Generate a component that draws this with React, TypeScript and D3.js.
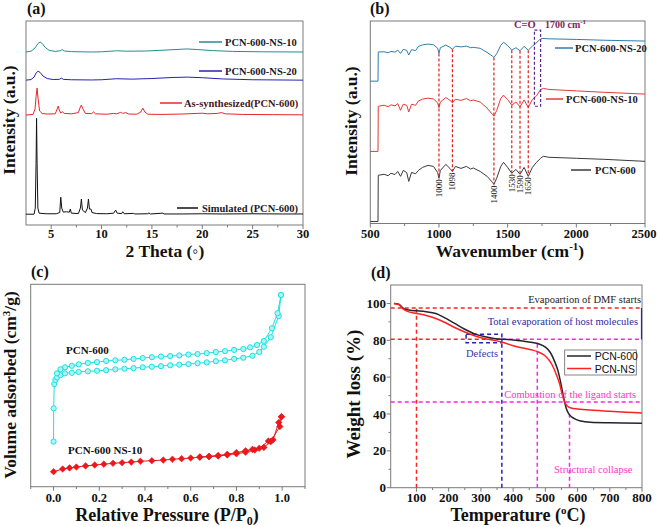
import React from 'react';
import * as d3 from 'd3';

type P = [number, number];

// ---------- (a) XRD ----------
const xrdTicks = [5, 10, 15, 20, 25, 30];
const xrdMinor = [7.5, 12.5, 17.5, 22.5, 27.5];
const xrdNames = ['Simulated (PCN-600)', 'As-synthesized(PCN-600)', 'PCN-600-NS-20', 'PCN-600-NS-10'];
const xrdOffsets = [5.3, 53.9, 71, 84.8];
const xrdSimulated: P[] = [[2.5,0],[3.3,0],[3.42,3],[3.5,25],[3.55,47],[3.6,25],[3.68,3],[3.8,0.5],[4.5,0.2],[5.5,0.2],[5.85,0.8],[5.95,8.3],[6.05,3],[6.2,1],[6.5,1.2],[6.8,1],[6.9,2.5],[7.0,0.5],[7.7,0.3],[7.9,3],[8.0,7.4],[8.1,2],[8.4,0.8],[8.6,3],[8.7,7.4],[8.8,2.5],[8.95,2.5],[9.05,0.8],[9.5,0.3],[10.5,0.2],[11.2,0.5],[11.4,2],[11.55,0.5],[12.0,0.3],[12.1,1.2],[12.25,0.2],[13.2,0.4],[13.3,0.1],[14.6,0.2],[14.7,0.6],[14.85,0.1],[16.1,0.5],[16.2,0.1],[18,0.1],[20,0.2],[22,0.1],[25,0.2],[28,0.1],[30,0.1]];
const xrdAsSynth: P[] = [[2.5,0],[3.2,0.3],[3.4,3],[3.5,9],[3.6,13.2],[3.7,8],[3.85,2],[4.1,0.8],[4.6,0.5],[5.4,0.6],[5.6,3],[5.7,4.4],[5.8,2.5],[5.95,1],[6.1,1.6],[6.3,0.8],[7.0,0.6],[7.7,1.2],[7.9,4],[8.0,4.9],[8.15,3],[8.4,0.8],[9.0,0.7],[9.2,1.5],[9.4,0.6],[10.5,0.4],[11.2,0.8],[11.5,0.6],[11.9,1.3],[12.1,0.8],[12.4,1.2],[12.7,0.5],[13.5,0.4],[13.9,1.5],[14.1,3.4],[14.3,1.5],[14.6,0.4],[16,0.3],[18,0.5],[19.5,0.8],[20,0.9],[20.5,0.6],[21.5,0.8],[21.9,1.2],[22.3,0.6],[24,0.3],[27,0.2],[30,0.1]];
const xrdNS20: P[] = [[2.5,0],[3.0,0.3],[3.3,1.5],[3.5,3.5],[3.7,4.4],[3.9,3.8],[4.2,2],[4.6,0.8],[5.2,0.3],[5.8,0.4],[6.0,1.0],[6.2,0.4],[7,0.2],[9,0.1],[10,0.2],[11.5,0.7],[13,0.5],[15,0.8],[17,1.3],[18.5,1.5],[20,1.2],[22,0.6],[25,0.2],[30,0]];
const xrdNS10: P[] = [[2.5,0],[3.0,0.4],[3.4,2],[3.7,4.2],[3.9,4.9],[4.1,4.2],[4.4,2.3],[4.8,0.8],[5.4,0.3],[5.9,0.6],[6.1,1.2],[6.3,0.5],[7,0.2],[9,0],[10,0.1],[11.5,0.6],[12.5,0.4],[14.5,0.5],[16.5,1],[18.5,1.5],[19.5,1.2],[21,0.7],[23,0.3],[26,0.1],[30,0]];

// ---------- (b) FTIR ----------
const ftirTicks = [500, 1000, 1500, 2000, 2500];
const ftirMinor = [750, 1250, 1750, 2250];
const ftirNames = ['PCN-600', 'PCN-600-NS-10', 'PCN-600-NS-20'];
const ftirPeaks = [1000, 1098, 1400, 1530, 1590, 1650];
const ftirBox = [1695, 1740, 57.9, 95.5];
const ftirPCN600: P[] = [[500,1],[556,1],[558,23.8],[600,24.3],[630,23.6],[650,24.8],[680,24.2],[700,25.7],[720,23.3],[740,26.2],[765,25.2],[780,20.8],[800,25.2],[830,24.6],[850,26.2],[880,27.7],[920,28.7],[960,28.2],[990,25.2],[1000,22.3],[1010,26.2],[1050,29.2],[1080,27.2],[1098,25.7],[1120,28.2],[1160,27.2],[1200,28.2],[1230,26.9],[1250,27.4],[1300,25.7],[1350,23.3],[1390,20.3],[1400,19.3],[1420,22.3],[1450,28.2],[1470,30.2],[1500,27.7],[1530,24.8],[1560,26.7],[1590,24.3],[1620,27.7],[1650,23.3],[1680,27.7],[1710,30.2],[1740,32.2],[1760,33.2],[1800,32.7],[2000,32.2],[2200,31.7],[2500,30.7]];
const ftirNS10: P[] = [[500,35.6],[556,35.6],[558,57.9],[600,58.4],[630,57.7],[650,58.6],[680,58.1],[700,59.2],[720,55.9],[740,58.9],[765,58.4],[780,55.1],[800,58.9],[830,58.4],[850,60.5],[880,61.4],[920,61.9],[960,61.5],[990,59.6],[1000,57.2],[1010,60.0],[1050,62.2],[1080,60.8],[1098,59.6],[1120,61.4],[1160,60.8],[1200,61.7],[1230,60.6],[1250,61.0],[1300,60.0],[1350,57.0],[1390,53.8],[1400,53.0],[1420,55.8],[1450,61.8],[1470,63.4],[1500,61.2],[1530,58.4],[1560,60.0],[1590,57.6],[1620,61.0],[1650,57.3],[1680,61.2],[1710,63.0],[1740,66.2],[1760,66.7],[1800,66.2],[2000,65.5],[2200,64.8],[2500,63.9]];
const ftirNS20: P[] = [[500,70.3],[556,70.3],[558,84.7],[600,84.8],[630,84.3],[650,85.0],[680,84.6],[700,85.6],[720,84.0],[740,86.0],[765,85.5],[780,83.2],[800,85.8],[830,85.4],[850,87.4],[880,88.2],[920,88.6],[960,88.3],[990,86.6],[1000,84.0],[1010,86.8],[1050,88.1],[1080,87.0],[1098,86.0],[1120,87.6],[1160,87.2],[1200,87.6],[1230,86.8],[1250,87.0],[1300,86.5],[1350,84.5],[1390,82.6],[1400,82.0],[1420,83.8],[1450,88.0],[1470,89.5],[1500,87.9],[1530,85.6],[1560,86.8],[1590,85.3],[1620,87.5],[1650,85.6],[1680,87.6],[1700,88.6],[1730,90.6],[1750,91.4],[1800,91.2],[2000,90.9],[2200,90.5],[2500,90.1]];

// ---------- (c) N2 isotherms ----------
const betTicks = [0, 0.2, 0.4, 0.6, 0.8, 1.0];
const betMinor = [-0.1, 0.1, 0.3, 0.5, 0.7, 0.9, 1.1];
const betNames = ['PCN-600', 'PCN-600 NS-10'];
const bet600Ads: P[] = [[0,156],[0.0005,271],[0.003,355],[0.008,369],[0.015,378],[0.03,386],[0.05,392],[0.08,394],[0.11,397],[0.15,399],[0.19,401],[0.23,403],[0.27,406],[0.31,408],[0.35,410],[0.39,413],[0.43,415],[0.47,417],[0.51,420],[0.55,422],[0.59,424],[0.63,427],[0.67,430],[0.71,434],[0.75,437],[0.79,442],[0.83,446],[0.87,453],[0.9,466],[0.92,484],[0.95,517],[0.985,590],[0.995,663]];
const bet600Des: P[] = [[0.995,663],[0.98,600],[0.955,548],[0.92,504],[0.89,490],[0.86,482],[0.83,476],[0.79,473],[0.75,469],[0.71,466],[0.67,462],[0.63,459],[0.59,457],[0.55,454],[0.51,452],[0.47,450],[0.43,448],[0.39,445],[0.35,442],[0.31,439],[0.27,437],[0.23,435],[0.19,431],[0.15,428],[0.11,423],[0.08,418],[0.05,413],[0.03,406],[0.015,392]];
const betNSAds: P[] = [[0,52],[0.04,61],[0.07,65],[0.1,68],[0.14,72],[0.18,75],[0.22,78],[0.26,81],[0.3,83],[0.34,85],[0.38,88],[0.43,90],[0.48,92],[0.52,95],[0.56,97],[0.6,99],[0.64,102],[0.68,104],[0.72,106],[0.76,110],[0.8,114],[0.84,119],[0.88,127],[0.92,136],[0.95,156],[0.99,208],[0.997,242]];
const betNSDes: P[] = [[0.997,242],[0.985,222],[0.96,162],[0.94,158],[0.9,133],[0.87,129],[0.84,124],[0.8,118],[0.76,112],[0.72,108],[0.68,105],[0.64,103]];

// ---------- (d) TGA ----------
const tgaXTicks = [100, 200, 300, 400, 500, 600, 700, 800];
const tgaXMinor = [150, 250, 350, 450, 550, 650, 750];
const tgaYTicks = [0, 20, 40, 60, 80, 100];
const tgaYMinor = [10, 30, 50, 70, 90];
const tgaNames = ['PCN-600', 'PCN-NS'];
const tgaPCN600: P[] = [[30,100],[45,99.6],[55,98],[65,96.8],[80,96.3],[100,96],[130,95.5],[160,94.5],[190,92],[220,89],[250,86],[280,83.5],[310,82],[340,81],[370,80.5],[400,80.2],[430,79.6],[460,78.8],[480,78],[500,76.3],[515,73.5],[530,68],[540,63],[550,55],[558,48],[565,43],[575,39.5],[590,37.5],[610,36.2],[640,35.5],[700,35.2],[800,35]];
const tgaPCNNS: P[] = [[30,100],[45,99.4],[55,97.5],[70,95.8],[100,94.5],[130,93.5],[160,91.8],[190,89.5],[220,86.8],[250,84.5],[280,82.5],[310,81],[340,80],[370,78.8],[400,77],[430,75.8],[460,74.7],[480,73.5],[500,71.5],[520,67],[535,61],[545,56],[553,50],[560,46.5],[568,44.3],[580,43.2],[600,42.7],[650,42],[700,41.5],[750,41],[800,40.5]];
const tgaLevels = [97.5, 80.5, 46.5];
const tgaTemps = [100, 365, 475, 575];
const tgaDefectBox = [254, 365, 78.7, 83.3];
const tgaNotes = ['Evapoartion of DMF starts', 'Total evaporation of host molecules', 'Defects', 'Combustion of the ligand starts', 'Structural collapse'];

const SERIF = "'Liberation Serif','Times New Roman',Times,serif";
const SANS = "'Liberation Sans',Arial,Helvetica,sans-serif";
const FRAME = '#7a7a7a';

function interp(data: P[], x: number): number {
  for (let i = 0; i < data.length - 1; i++) {
    const [x0, y0] = data[i];
    const [x1, y1] = data[i + 1];
    if (x >= x0 && x <= x1) return x1 === x0 ? y1 : y0 + ((x - x0) / (x1 - x0)) * (y1 - y0);
  }
  return data[data.length - 1][1];
}

function diamond(cx: number, cy: number, r: number) {
  return `M${cx},${cy - r}L${cx + r},${cy}L${cx},${cy + r}L${cx - r},${cy}Z`;
}

export default function App() {
  // ---- panel a ----
  const xa = d3.scaleLinear().domain([2.5, 30]).range([26, 303]);
  const ya = d3.scaleLinear().domain([0, 100]).range([225, 21]);
  const lineA = (data: P[], off: number) =>
    d3.line<P>().x(d => xa(d[0])).y(d => ya(d[1] + off))(data) || '';
  const xrdSeries = [xrdSimulated, xrdAsSynth, xrdNS20, xrdNS10];
  const xrdColors = ['#111111', '#e8262b', '#2323b3', '#20908f'];
  const xrdLegend = [
    { x1: 177, x2: 198, y: 208, tx: 202 },
    { x1: 160, x2: 182, y: 103, tx: 184 },
    { x1: 199, x2: 222, y: 71, tx: 225 },
    { x1: 199, x2: 222, y: 42, tx: 225 },
  ];

  // ---- panel b ----
  const xb = d3.scaleLinear().domain([500, 2500]).range([370.3, 645]);
  const yb = d3.scaleLinear().domain([0, 100]).range([223.5, 21]);
  const lineB = d3.line<P>().x(d => xb(d[0])).y(d => yb(d[1]));
  const ftirSeries = [ftirPCN600, ftirNS10, ftirNS20];
  const ftirColors = ['#3a3a3a', '#e53935', '#2f7dad'];
  const ftirLegend = [
    { x1: 571, x2: 591, y: 170, tx: 595 },
    { x1: 546, x2: 563, y: 99, tx: 566 },
    { x1: 555, x2: 573, y: 48, tx: 575 },
  ];

  // ---- panel c ----
  const xc = d3.scaleLinear().domain([-0.1, 1.1]).range([30.7, 305]);
  const yc = d3.scaleLinear().domain([0, 700]).range([486.7, 284.3]);
  const lineC = d3.line<P>().x(d => xc(d[0])).y(d => yc(d[1]));
  const cyan = '#1fe0e0';
  const red = '#e8191c';

  // ---- panel d ----
  const xd = d3.scaleLinear().domain([20, 800]).range([390.7, 642]);
  const yd = d3.scaleLinear().domain([0, 110]).range([487.7, 285]);
  const lineD = d3.line<P>().x(d => xd(d[0])).y(d => yd(d[1])).curve(d3.curveMonotoneX);
  const dRed = '#ff2222';
  const dBlue = '#2323c0';
  const dMag = '#ff22ee';
  const dash = '4,3';

  const frame = (x0: number, x1: number, y0: number, y1: number) => (
    <rect x={x0} y={y0} width={x1 - x0} height={y1 - y0} fill="none" stroke={FRAME} strokeWidth={1} />
  );

  return (
    <svg width={658} height={527} style={{ position: 'absolute', left: 0, top: 0, display: 'block', background: '#fff' }}>
      <rect x={0} y={0} width={658} height={527} fill="#fff" />

      {/* ================= (a) ================= */}
      <g>
        {frame(26, 303, 21, 225)}
        {xrdTicks.map(t => (
          <g key={'at' + t}>
            <line x1={xa(t)} x2={xa(t)} y1={225} y2={229} stroke={FRAME} />
            <text x={xa(t)} y={238} textAnchor="middle" fontFamily={SERIF} fontWeight="bold" fontSize={12.5} fill="#111">{t}</text>
          </g>
        ))}
        {xrdMinor.map(t => (
          <line key={'am' + t} x1={xa(t)} x2={xa(t)} y1={225} y2={227.5} stroke={FRAME} />
        ))}
        {xrdSeries.map((s, i) => (
          <path key={'as' + i} d={lineA(s, xrdOffsets[i])} fill="none" stroke={xrdColors[i]} strokeWidth={1} />
        ))}
        {xrdLegend.map((l, i) => (
          <g key={'al' + i}>
            <line x1={l.x1} x2={l.x2} y1={l.y} y2={l.y} stroke={xrdColors[i]} strokeWidth={1.5} />
            <text x={l.tx} y={l.y + 4} fontFamily={SERIF} fontWeight="bold" fontSize={10.5} fill={i === 1 ? '#4a1520' : '#1a1a2a'}>{xrdNames[i]}</text>
          </g>
        ))}
        <text x={165} y={257} textAnchor="middle" fontFamily={SERIF} fontWeight="bold" fontSize={17.5} fill="#111">2 Theta (◦)</text>
        <text transform="translate(15,120) rotate(-90)" textAnchor="middle" fontFamily={SERIF} fontWeight="bold" fontSize={17.5} fill="#111">Intensity (a.u.)</text>
        <text x={27} y={14} fontFamily={SERIF} fontWeight="bold" fontSize={16} fill="#111">(a)</text>
      </g>

      {/* ================= (b) ================= */}
      <g>
        {frame(370.3, 645, 21, 223.5)}
        {ftirTicks.map(t => (
          <g key={'bt' + t}>
            <line x1={xb(t)} x2={xb(t)} y1={223.5} y2={227.5} stroke={FRAME} />
            <text x={t === 2500 ? xb(t) - 1 : xb(t)} y={238} textAnchor="middle" fontFamily={SERIF} fontWeight="bold" fontSize={12.5} fill="#111">{t}</text>
          </g>
        ))}
        {ftirMinor.map(t => (
          <line key={'bm' + t} x1={xb(t)} x2={xb(t)} y1={223.5} y2={226} stroke={FRAME} />
        ))}
        {ftirSeries.map((s, i) => (
          <path key={'bs' + i} d={lineB(s) || ''} fill="none" stroke={ftirColors[i]} strokeWidth={1} />
        ))}
        {ftirPeaks.map(p => {
          const top = yb(interp(ftirNS20, p));
          const bot = yb(interp(ftirPCN600, p));
          return (
            <g key={'bp' + p}>
              <line x1={xb(p)} x2={xb(p)} y1={top} y2={bot} stroke="#e02020" strokeWidth={1.2} strokeDasharray="3,2" />
              <text transform={`translate(${xb(p)},${bot + 1}) rotate(-90)`} dy="0.33em" textAnchor="end" fontFamily={SERIF} fontSize={9} fill="#111">{p}</text>
            </g>
          );
        })}
        <rect x={xb(ftirBox[0])} y={yb(ftirBox[3])} width={xb(ftirBox[1]) - xb(ftirBox[0])} height={yb(ftirBox[2]) - yb(ftirBox[3])} fill="none" stroke="#5b2a90" strokeWidth={1.2} strokeDasharray="3,2" />
        <text x={514} y={28} fontFamily={SERIF} fontWeight="bold" fontSize={10.5} fill="#7a2a5a">C=O</text>
        <text x={545} y={28} fontFamily={SERIF} fontWeight="bold" fontSize={10} fill="#7a2a5a">1700 cm<tspan dy={-4} fontSize={7}>-1</tspan></text>
        {ftirLegend.map((l, i) => (
          <g key={'bl' + i}>
            <line x1={l.x1} x2={l.x2} y1={l.y} y2={l.y} stroke={ftirColors[i]} strokeWidth={1.5} />
            <text x={l.tx} y={l.y + 4} fontFamily={SERIF} fontWeight="bold" fontSize={10.5} fill="#1a1a1a">{ftirNames[i]}</text>
          </g>
        ))}
        <text x={510} y={257} textAnchor="middle" fontFamily={SERIF} fontWeight="bold" fontSize={17.5} fill="#111">Wavenumber (cm<tspan dy={-7} fontSize={11}>-1</tspan><tspan dy={7}>)</tspan></text>
        <text transform="translate(357,121) rotate(-90)" textAnchor="middle" fontFamily={SERIF} fontWeight="bold" fontSize={17.5} fill="#111">Intensity (a.u.)</text>
        <text x={370} y={14} fontFamily={SERIF} fontWeight="bold" fontSize={16} fill="#111">(b)</text>
      </g>

      {/* ================= (c) ================= */}
      <g>
        {frame(30.7, 305, 284.3, 486.7)}
        {betTicks.map(t => (
          <g key={'ct' + t}>
            <line x1={xc(t)} x2={xc(t)} y1={486.7} y2={490.7} stroke={FRAME} />
            <text x={xc(t)} y={502} textAnchor="middle" fontFamily={SERIF} fontWeight="bold" fontSize={12.5} fill="#111">{t.toFixed(1)}</text>
          </g>
        ))}
        {betMinor.map(t => (
          <line key={'cm' + t} x1={xc(t)} x2={xc(t)} y1={486.7} y2={489} stroke={FRAME} />
        ))}
        <path d={lineC(bet600Ads) || ''} fill="none" stroke={cyan} strokeWidth={1} />
        <path d={lineC(bet600Des) || ''} fill="none" stroke={cyan} strokeWidth={1} />
        {[...bet600Ads, ...bet600Des].map((d, i) => (
          <circle key={'cc' + i} cx={xc(d[0])} cy={yc(d[1])} r={2.6} fill="#a8f6f6" stroke={cyan} strokeWidth={1} />
        ))}
        <path d={lineC(betNSAds) || ''} fill="none" stroke={red} strokeWidth={1} />
        <path d={lineC(betNSDes) || ''} fill="none" stroke={red} strokeWidth={1} />
        {[...betNSAds, ...betNSDes].map((d, i) => (
          <path key={'cd' + i} d={diamond(xc(d[0]), yc(d[1]), 3.3)} fill={red} stroke={red} strokeWidth={0.5} />
        ))}
        <text x={66} y={354} fontFamily={SERIF} fontWeight="bold" fontSize={11} fill="#111">{betNames[0]}</text>
        <text x={68} y={454} fontFamily={SERIF} fontWeight="bold" fontSize={11} fill="#111">{betNames[1]}</text>
        <text x={167} y={521} textAnchor="middle" fontFamily={SERIF} fontWeight="bold" fontSize={18} fill="#111">Relative Pressure (P/P<tspan dy={4} fontSize={12}>0</tspan><tspan dy={-4}>)</tspan></text>
        <text transform="translate(16,385) rotate(-90)" textAnchor="middle" fontFamily={SERIF} fontWeight="bold" fontSize={17.5} fill="#111">Volume adsorbed (cm<tspan dy={-6} fontSize={11}>3</tspan><tspan dy={6}>/g)</tspan></text>
        <text x={31} y={277} fontFamily={SERIF} fontWeight="bold" fontSize={16} fill="#111">(c)</text>
      </g>

      {/* ================= (d) ================= */}
      <g>
        {frame(390.7, 642, 285, 487.7)}
        {tgaXTicks.map(t => (
          <g key={'dt' + t}>
            <line x1={xd(t)} x2={xd(t)} y1={487.7} y2={491.7} stroke={FRAME} />
            <text x={xd(t)} y={502} textAnchor="middle" fontFamily={SERIF} fontWeight="bold" fontSize={13} fill="#111">{t}</text>
          </g>
        ))}
        {tgaXMinor.map(t => (
          <line key={'dm' + t} x1={xd(t)} x2={xd(t)} y1={487.7} y2={490} stroke={FRAME} />
        ))}
        {tgaYTicks.map(t => (
          <g key={'dy' + t}>
            <line x1={386.7} x2={390.7} y1={yd(t)} y2={yd(t)} stroke={FRAME} />
            <text x={386} y={yd(t)} dy="0.35em" textAnchor="end" fontFamily={SERIF} fontWeight="bold" fontSize={13} fill="#111">{t}</text>
          </g>
        ))}
        {tgaYMinor.map(t => (
          <line key={'dn' + t} x1={388.5} x2={390.7} y1={yd(t)} y2={yd(t)} stroke={FRAME} />
        ))}
        {/* guide lines */}
        <line x1={xd(20)} x2={xd(800)} y1={yd(tgaLevels[0])} y2={yd(tgaLevels[0])} stroke={dRed} strokeWidth={1.5} strokeDasharray={dash} />
        <line x1={xd(tgaTemps[0])} x2={xd(tgaTemps[0])} y1={yd(0)} y2={yd(tgaLevels[0])} stroke={dRed} strokeWidth={1.5} strokeDasharray={dash} />
        <line x1={xd(20)} x2={xd(tgaTemps[1])} y1={yd(tgaLevels[1])} y2={yd(tgaLevels[1])} stroke={dRed} strokeWidth={1.5} strokeDasharray={dash} />
        <line x1={xd(tgaTemps[1])} x2={xd(800)} y1={yd(tgaLevels[1])} y2={yd(tgaLevels[1])} stroke={dMag} strokeWidth={1.5} strokeDasharray={dash} />
        <line x1={xd(20)} x2={xd(800)} y1={yd(tgaLevels[2])} y2={yd(tgaLevels[2])} stroke={dMag} strokeWidth={1.5} strokeDasharray={dash} />
        <line x1={xd(tgaTemps[2])} x2={xd(tgaTemps[2])} y1={yd(0)} y2={yd(78)} stroke={dMag} strokeWidth={1.5} strokeDasharray={dash} />
        <line x1={xd(tgaTemps[3])} x2={xd(tgaTemps[3])} y1={yd(0)} y2={yd(40)} stroke={dMag} strokeWidth={1.5} strokeDasharray={dash} />
        <line x1={xd(tgaTemps[1])} x2={xd(tgaTemps[1])} y1={yd(0)} y2={yd(tgaLevels[1])} stroke={dBlue} strokeWidth={1.5} strokeDasharray={dash} />
        <line x1={xd(800) - 0.5} x2={xd(800) - 0.5} y1={yd(tgaLevels[1])} y2={yd(tgaLevels[0])} stroke={dBlue} strokeWidth={1.2} />
        <rect x={xd(tgaDefectBox[0])} y={yd(tgaDefectBox[3])} width={xd(tgaDefectBox[1]) - xd(tgaDefectBox[0])} height={yd(tgaDefectBox[2]) - yd(tgaDefectBox[3])} fill="none" stroke={dBlue} strokeWidth={1.5} strokeDasharray={dash} />
        {/* curves */}
        <path d={lineD(tgaPCN600) || ''} fill="none" stroke="#23232e" strokeWidth={1.5} />
        <path d={lineD(tgaPCNNS) || ''} fill="none" stroke="#ff2020" strokeWidth={1.5} />
        {/* notes */}
        <text x={641} y={303} textAnchor="end" fontFamily={SERIF} fontSize={10.5} fill="#222">{tgaNotes[0]}</text>
        <text x={638} y={325} textAnchor="end" fontFamily={SERIF} fontSize={10.5} fill="#2b2b9c">{tgaNotes[1]}</text>
        <text x={466} y={357} fontFamily={SERIF} fontSize={10.5} fill="#3535b0">{tgaNotes[2]}</text>
        <text x={636} y={398} textAnchor="end" fontFamily={SERIF} fontSize={10.5} fill="#ff33cc">{tgaNotes[3]}</text>
        <text x={554} y={473} fontFamily={SERIF} fontSize={10.5} fill="#ff33cc">{tgaNotes[4]}</text>
        {/* legend */}
        <rect x={564.7} y={350} width={71.6} height={25} fill="#fff" stroke="#666" strokeWidth={0.8} />
        <line x1={567} x2={591} y1={356} y2={356} stroke="#23232e" strokeWidth={1.5} />
        <line x1={567} x2={591} y1={368.5} y2={368.5} stroke="#ff2020" strokeWidth={1.5} />
        <text x={594.7} y={360} fontFamily={SANS} fontSize={10.5} fill="#111">{tgaNames[0]}</text>
        <text x={594.7} y={372.5} fontFamily={SANS} fontSize={10.5} fill="#111">{tgaNames[1]}</text>
        <text x={518} y={521} textAnchor="middle" fontFamily={SERIF} fontWeight="bold" fontSize={18} fill="#111">Temperature (<tspan dy={-7} fontSize={11}>o</tspan><tspan dy={7}>C)</tspan></text>
        <text transform="translate(360,394) rotate(-90)" textAnchor="middle" fontFamily={SERIF} fontWeight="bold" fontSize={19} fill="#111">Weight loss (%)</text>
        <text x={371} y={278} fontFamily={SERIF} fontWeight="bold" fontSize={16} fill="#111">(d)</text>
      </g>
    </svg>
  );
}
